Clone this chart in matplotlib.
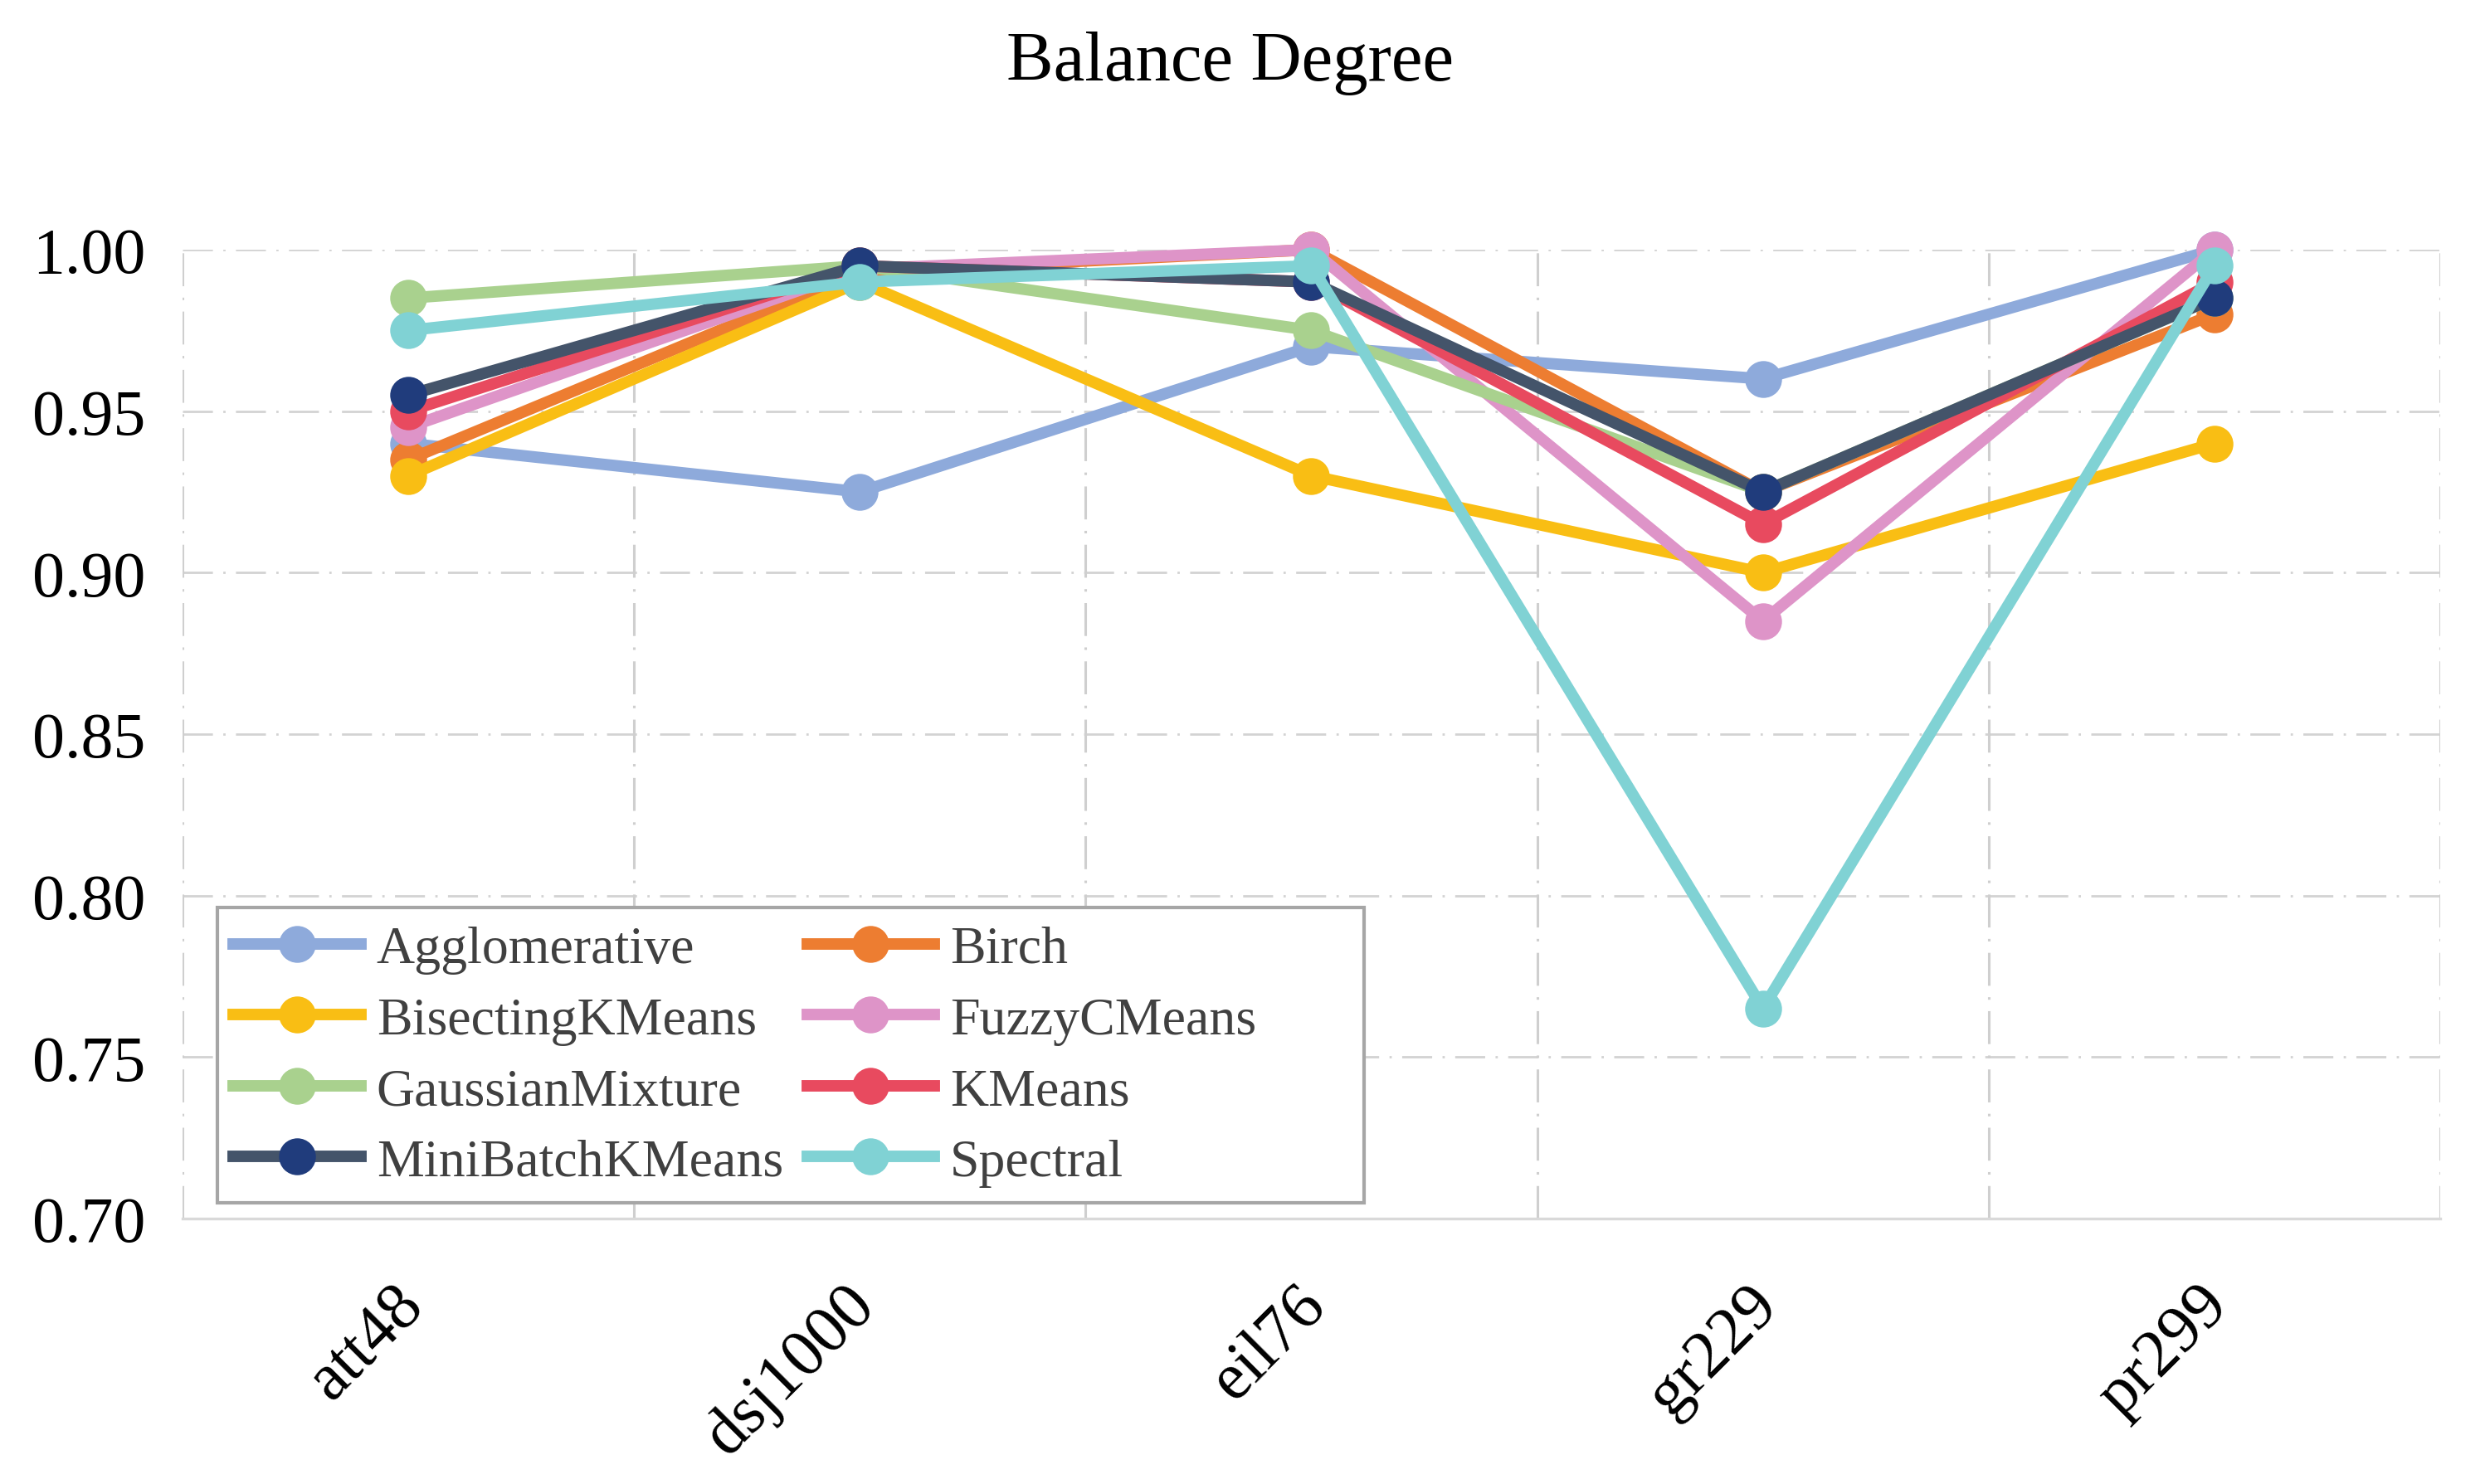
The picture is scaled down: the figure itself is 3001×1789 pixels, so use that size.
### Balance Degree line chart for each clustering method

import numpy as np
import matplotlib.pyplot as plt
import matplotlib.transforms as mtransforms
from matplotlib.patches import Rectangle

plt.rcParams['font.family'] = ['Liberation Serif', 'DejaVu Serif']

### Data
datasets = ['att48', 'dsj1000', 'eil76', 'gr229', 'pr299']

methods = ['Agglomerative', 'Birch', 'BisectingKMeans', 'FuzzyCMeans',
           'GaussianMixture', 'KMeans', 'MiniBatchKMeans', 'Spectral']

agglomerative = [0.940, 0.925, 0.970, 0.960, 1.000]
birch = [0.935, 0.993, 1.000, 0.925, 0.980]
bisecting_kmeans = [0.930, 0.990, 0.930, 0.900, 0.940]
fuzzy_cmeans = [0.945, 0.994, 1.000, 0.885, 1.000]
gaussian_mixture = [0.985, 0.995, 0.975, 0.925, 0.985]
kmeans = [0.950, 0.995, 0.990, 0.915, 0.990]
minibatch_kmeans = [0.955, 0.995, 0.990, 0.925, 0.985]
spectral = [0.975, 0.990, 0.995, 0.765, 0.995]

values = [agglomerative, birch, bisecting_kmeans, fuzzy_cmeans,
          gaussian_mixture, kmeans, minibatch_kmeans, spectral]

line_colors = ['#8eaadb', '#ed7d31', '#f9be14', '#de94c8',
               '#a9d18e', '#e84a5f', '#44546a', '#80d2d4']
marker_colors = ['#8eaadb', '#ed7d31', '#f9be14', '#de94c8',
                 '#a9d18e', '#e84a5f', '#203c7c', '#80d2d4']

### Plotting
fig = plt.figure(figsize=(15.005, 8.95), dpi=200)
ax = fig.add_axes([0.0733, 0.1788, 0.9067, 0.6525])

x = np.arange(len(datasets))
handles = []
for i in range(len(methods)):
    h, = ax.plot(x, values[i], color=line_colors[i], linewidth=5,
                 marker='o', markersize=15, markerfacecolor=marker_colors[i],
                 markeredgecolor=marker_colors[i], label=methods[i],
                 clip_on=False, zorder=3 + i)
    handles.append(h)

ax.set_xlim(-0.5, 4.5)
ax.set_ylim(0.70, 1.00)
ax.set_yticks([0.70, 0.75, 0.80, 0.85, 0.90, 0.95, 1.00])
ax.set_yticklabels(['%.2f' % v for v in ax.get_yticks()])
ax.set_xticks(x)
ax.set_xticklabels(datasets, rotation=45, ha='right', va='top',
                   rotation_mode='anchor')
ax.tick_params(axis='y', length=0, pad=16, labelsize=28)
ax.tick_params(axis='x', length=0, pad=24, labelsize=29)

shift = mtransforms.ScaledTranslation(-7 / 72, 0, fig.dpi_scale_trans)
for lbl in ax.get_xticklabels():
    lbl.set_transform(lbl.get_transform() + shift)

### Grid
grid_style = (0, (13, 4.5, 1, 4.5))
for yv in [0.75, 0.80, 0.85, 0.90, 0.95, 1.00]:
    ax.axhline(yv, color='#d3d3d3', linewidth=1.0, linestyle=grid_style, zorder=1)
for xv in [-0.5, 0.5, 1.5, 2.5, 3.5, 4.5]:
    ax.axvline(xv, color='#cfcfcf', linewidth=1.1, linestyle=grid_style, zorder=1)

for side in ['top', 'left', 'right']:
    ax.spines[side].set_visible(False)
ax.spines['bottom'].set_color('#d9d9d9')
ax.spines['bottom'].set_linewidth(1.2)

fig.suptitle('Balance Degree', x=0.494, y=0.957, va='center', fontsize=30.5)

### Legend (row-wise order), with a wider box drawn behind it
box = Rectangle((0.0155, 0.0164), 0.508, 0.3046, transform=ax.transAxes,
                facecolor='white', edgecolor='#a6a6a6', linewidth=1.5,
                zorder=19)
ax.add_patch(box)

order = [0, 2, 4, 6, 1, 3, 5, 7]
leg = ax.legend([handles[i] for i in order], [methods[i] for i in order],
                ncol=2, loc='lower left', bbox_to_anchor=(0.0155, 0.0164),
                fontsize=23, frameon=False, borderaxespad=0,
                handlelength=2.4, handletextpad=0.3, columnspacing=0.45,
                labelspacing=0.42, borderpad=0.3)
for t in leg.get_texts():
    t.set_color('#404040')
leg.set_zorder(20)

plt.savefig('out.png', dpi=200)
